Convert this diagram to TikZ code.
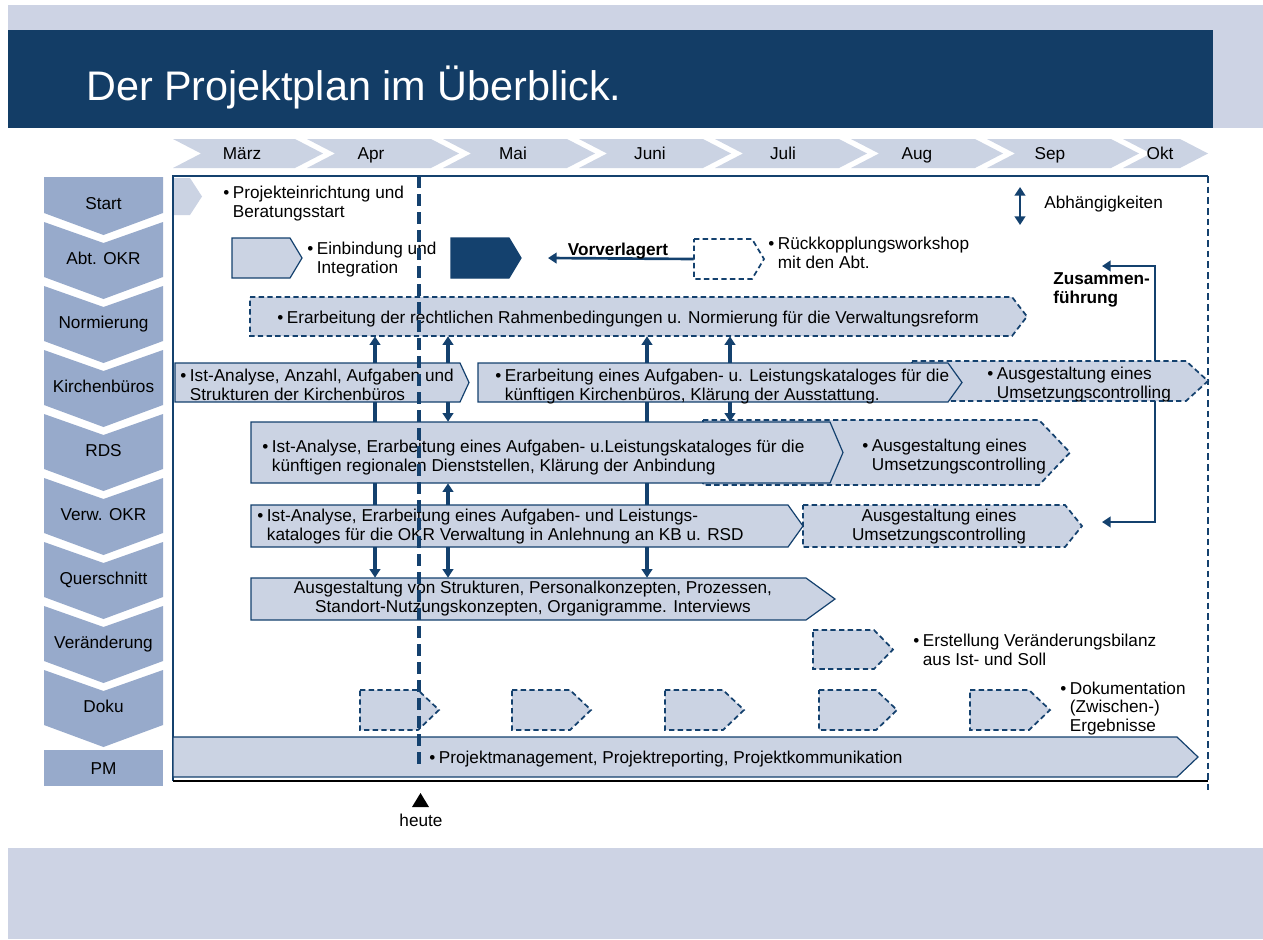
\documentclass[tikz,border=0pt]{standalone}
\usepackage{fontspec}
\setmainfont{Liberation Sans}
\usetikzlibrary{arrows.meta,fit}
\definecolor{band}{HTML}{CDD3E4}
\definecolor{titlebar}{HTML}{133D66}
\definecolor{lightc}{HTML}{CBD3E3}
\definecolor{midc}{HTML}{97AACB}
\definecolor{navy}{HTML}{14416E}
\newcommand\bl{\makebox[0.56em][l]{\textbullet}}
\newcommand\bind{\hspace*{0.56em}}
% #1 name, #2 x1, #3 y1, #4 x of point, #5 y2, #6 depth of point, #7 style
\newcommand\chevbox[7]{%
  \path[#7] (#2,#3) -- ({#4-#6},#3) -- (#4,{(#3+#5)/2}) -- ({#4-#6},#5) -- (#2,#5) -- cycle;
  \node[fit={(#2,#3)(#4,#5)}, inner sep=0pt, draw=none] (#1) {};}
\begin{document}
\begin{tikzpicture}[x=0.75pt,y=-0.75pt,
  font=\fontsize{12.9}{13.6}\selectfont,
  solidbox/.style={fill=lightc, draw=navy, line width=0.9pt, line join=miter},
  dashbox/.style={fill=lightc, draw=navy, line width=1.3pt, dash pattern=on 4pt off 2.5pt},
  whitedash/.style={fill=white, draw=navy, line width=1.3pt, dash pattern=on 4pt off 2.5pt},
  darkbox/.style={fill=navy, draw=navy, line width=0.9pt},
  txt/.style={inner sep=0pt, align=left, anchor=base west},
  ctxt/.style={inner sep=0pt, align=center, anchor=base},
  lbl/.style={inner sep=0pt, anchor=base},
  dep/.style={draw=navy, line width=2.3pt},
  tip/.style={-{Triangle[width=8pt,length=6.5pt]}},
  both/.style={{Triangle[width=8pt,length=6.5pt]}-{Triangle[width=8pt,length=6.5pt]}}]
\useasboundingbox (0,0) rectangle (1263,939);
% background bands
\fill[band] (8,5) rectangle (1263,30);
\fill[band] (1213,30) rectangle (1263,128);
\fill[band] (8,848) rectangle (1263,939);
\fill[titlebar] (8,30) rectangle (1213,128);
\node[anchor=base west, inner sep=0pt, text=white, font=\fontsize{31}{31}\selectfont] (title) at (86,100) {Der Projektplan im Überblick.};
% month chevrons
\foreach \L/\R [count=\i] in {173/295, 307/431, 443/567, 579/703, 715/839, 851/975, 987/1111, 1123/1180}
  \fill[lightc] (\L,139) -- (\R,139) -- ({\R+28},153.5) -- (\R,168) -- (\L,168) -- ({\L+28},153.5) -- cycle;
\foreach \x/\m [count=\i] in {242/März, 371/Apr, 513/Mai, 650/Juni, 783/Juli, 917/Aug, 1050/Sep, 1160/Okt}
  \node[lbl] (month\i) at (\x,159) {\m};
% left column chevrons
\fill[midc] (44,177) -- (163,177) -- (163,213) -- (103.5,235) -- (44,213) -- cycle;
\foreach \k in {1,...,8} {
  \pgfmathsetmacro\T{222+64*(\k-1)}
  \pgfmathsetmacro\B{277+64*(\k-1)}
  \fill[midc] (44,\T) -- (103.5,{\T+21}) -- (163,\T) -- (163,\B) -- (103.5,{\B+22}) -- (44,\B) -- cycle;
}
\fill[midc] (44,750) rectangle (163,786);
\foreach \y/\t [count=\i] in {209/Start, 264/Abt. OKR, 328/Normierung, 392/Kirchenbüros, 456/RDS, 520/Verw. OKR, 584/Querschnitt, 648/Veränderung, 712/Doku, 774/PM}
  \node[lbl] (row\i) at (103.5,\y) {\t};
% frame
\draw[navy, line width=1.1pt] (173,781) -- (173,176) -- (1208,176);
\draw[navy, line width=1.6pt, dash pattern=on 5pt off 3pt] (1208,176) -- (1208,790);
% row Start
\chevbox{startc}{174}{178}{202}{215}{12}{fill=lightc}
\node[txt] (tstart) at (223,217) {\bl Projekteinrichtung und\\\bind Beratungsstart};
% row Abt. OKR
\chevbox{einb}{232}{238}{302}{278}{12}{solidbox}
\node[txt] (teinb) at (307,273) {\bl Einbindung und\\\bind Integration};
\chevbox{dark}{451}{238}{521}{278}{12}{darkbox}
\chevbox{rueck}{694}{239}{764}{279}{12}{whitedash}
\node[txt] (trueck) at (768,268) {\bl Rückkopplungsworkshop\\\bind mit den Abt.};
\coordinate (vtip) at (548,258);
\draw[dep, line width=2pt, tip] (rueck.west) -- (vtip);
\node[ctxt, font=\fontsize{12.9}{13.6}\selectfont\bfseries] (tvorv) at (618,255) {Vorverlagert};
\coordinate (abh1) at (1020,187);
\coordinate (abh2) at (1020,225);
\draw[dep, line width=2pt, both] (abh1) -- (abh2);
\node[txt] (tabh) at (1044,208) {Abhängigkeiten};
\node[txt, font=\fontsize{12.9}{13.6}\selectfont\bfseries] (tzus) at (1053,303) {Zusammen-\\führung};
% row Normierung
\chevbox{norm}{250}{297}{1027}{336}{15}{dashbox}
\node[txt] (tnorm) at (277,323) {\bl Erarbeitung der rechtlichen Rahmenbedingungen u. Normierung für die Verwaltungsreform};
% row Kirchenbueros
\chevbox{kb3}{912}{361}{1208}{401}{22}{dashbox}
\chevbox{kb1}{175}{363}{469}{402}{9}{solidbox}
\chevbox{kb2}{478}{363}{962}{402}{14}{solidbox}
\node[txt] (tkb1) at (180,400) {\bl Ist-Analyse, Anzahl, Aufgaben und\\\bind Strukturen der Kirchenbüros};
\node[txt] (tkb2) at (495,400) {\bl Erarbeitung eines Aufgaben- u. Leistungskataloges für die\\\bind künftigen Kirchenbüros, Klärung der Ausstattung.};
\node[txt] (tkb3) at (987,398) {\bl Ausgestaltung eines\\\bind Umsetzungscontrolling};
% row RDS
\chevbox{rds2}{703}{420}{1070}{485}{31}{dashbox}
\chevbox{rds1}{251}{422}{843}{483}{13}{solidbox}
\node[txt] (trds1) at (262,471) {\bl Ist-Analyse, Erarbeitung eines Aufgaben- u.Leistungskataloges für die\\\bind künftigen regionalen Dienststellen, Klärung der Anbindung};
\node[txt] (trds2) at (862,470) {\bl Ausgestaltung eines\\\bind Umsetzungscontrolling};
% row Verw. OKR
\chevbox{verw2}{803}{505}{1082}{547}{17}{dashbox}
\chevbox{verw1}{251}{505}{803}{547}{15}{solidbox}
\node[txt] (tverw1) at (257,540) {\bl Ist-Analyse, Erarbeitung eines Aufgaben- und Leistungs-\\\bind kataloges für die OKR Verwaltung in Anlehnung an KB u. RSD};
\node[ctxt] (tverw2) at (939,540) {Ausgestaltung eines\\Umsetzungscontrolling};
% row Querschnitt
\chevbox{quer}{251}{578}{835}{620}{29}{solidbox}
\node[ctxt] (tquer) at (533,612) {Ausgestaltung von Strukturen, Personalkonzepten, Prozessen,\\Standort-Nutzungskonzepten, Organigramme. Interviews};
% row Veraenderung
\chevbox{ver}{813}{630}{893}{669}{19}{dashbox}
\node[txt] (tver) at (913,665) {\bl Erstellung Veränderungsbilanz\\\bind aus Ist- und Soll};
% row Doku
\chevbox{doku1}{360}{690}{439}{730}{21}{dashbox}
\chevbox{doku2}{512}{690}{591}{730}{21}{dashbox}
\chevbox{doku3}{665}{690}{744}{730}{21}{dashbox}
\chevbox{doku4}{819}{690}{897}{730}{21}{dashbox}
\chevbox{doku5}{970}{690}{1050}{730}{21}{dashbox}
\node[txt] (tdoku) at (1060,731) {\bl Dokumentation\\\bind (Zwischen-)\\\bind Ergebnisse};
% row PM
\chevbox{pm}{173}{737}{1198}{777}{21}{solidbox}
\node[txt] (tpm) at (429,763) {\bl Projektmanagement, Projektreporting, Projektkommunikation};
\draw[black, line width=1.2pt] (173,781) -- (1208,781);
% dependency arrows
\coordinate (ax1) at (375,0);
\coordinate (ax2) at (448,0);
\coordinate (ax3) at (647,0);
\coordinate (ax4) at (730,0);
\draw[dep, tip] (kb1.north -| ax1) -- (norm.south -| ax1);
\draw[dep] (kb1.south -| ax1) -- (rds1.north -| ax1);
\draw[dep] (rds1.south -| ax1) -- (verw1.north -| ax1);
\draw[dep, tip] (verw1.south -| ax1) -- (quer.north -| ax1);
\draw[dep, tip] (kb1.north -| ax2) -- (norm.south -| ax2);
\draw[dep, tip] (kb1.south -| ax2) -- (rds1.north -| ax2);
\draw[dep, tip] (verw1.north -| ax2) -- (rds1.south -| ax2);
\draw[dep, tip] (verw1.south -| ax2) -- (quer.north -| ax2);
\draw[dep, tip] (kb2.north -| ax3) -- (norm.south -| ax3);
\draw[dep] (kb2.south -| ax3) -- (rds1.north -| ax3);
\draw[dep] (rds1.south -| ax3) -- (verw1.north -| ax3);
\draw[dep, tip] (verw1.south -| ax3) -- (quer.north -| ax3);
\draw[dep, tip] (kb2.north -| ax4) -- (norm.south -| ax4);
\draw[dep, tip] (kb2.south -| ax4) -- (rds1.north -| ax4);
% Zusammenfuehrung
\coordinate (zx) at (1155,0);
\coordinate (ztop) at (1102,266);
\coordinate (zbot) at (1102,522);
\draw[dep, line width=2pt, tip] (kb3.north -| zx) |- (ztop);
\draw[dep, line width=2pt, tip] (kb3.south -| zx) |- (zbot);
% today line
\coordinate (today1) at (419,176);
\coordinate (today2) at (419,768);
\draw[navy, line width=2.4pt, dash pattern=on 9pt off 4.5pt] (today1) -- (today2);
\fill[black] (412,807) -- (420.5,793) -- (429,807) -- cycle;
\node[ctxt] (theute) at (421,826) {heute};
\end{tikzpicture}
\end{document}
